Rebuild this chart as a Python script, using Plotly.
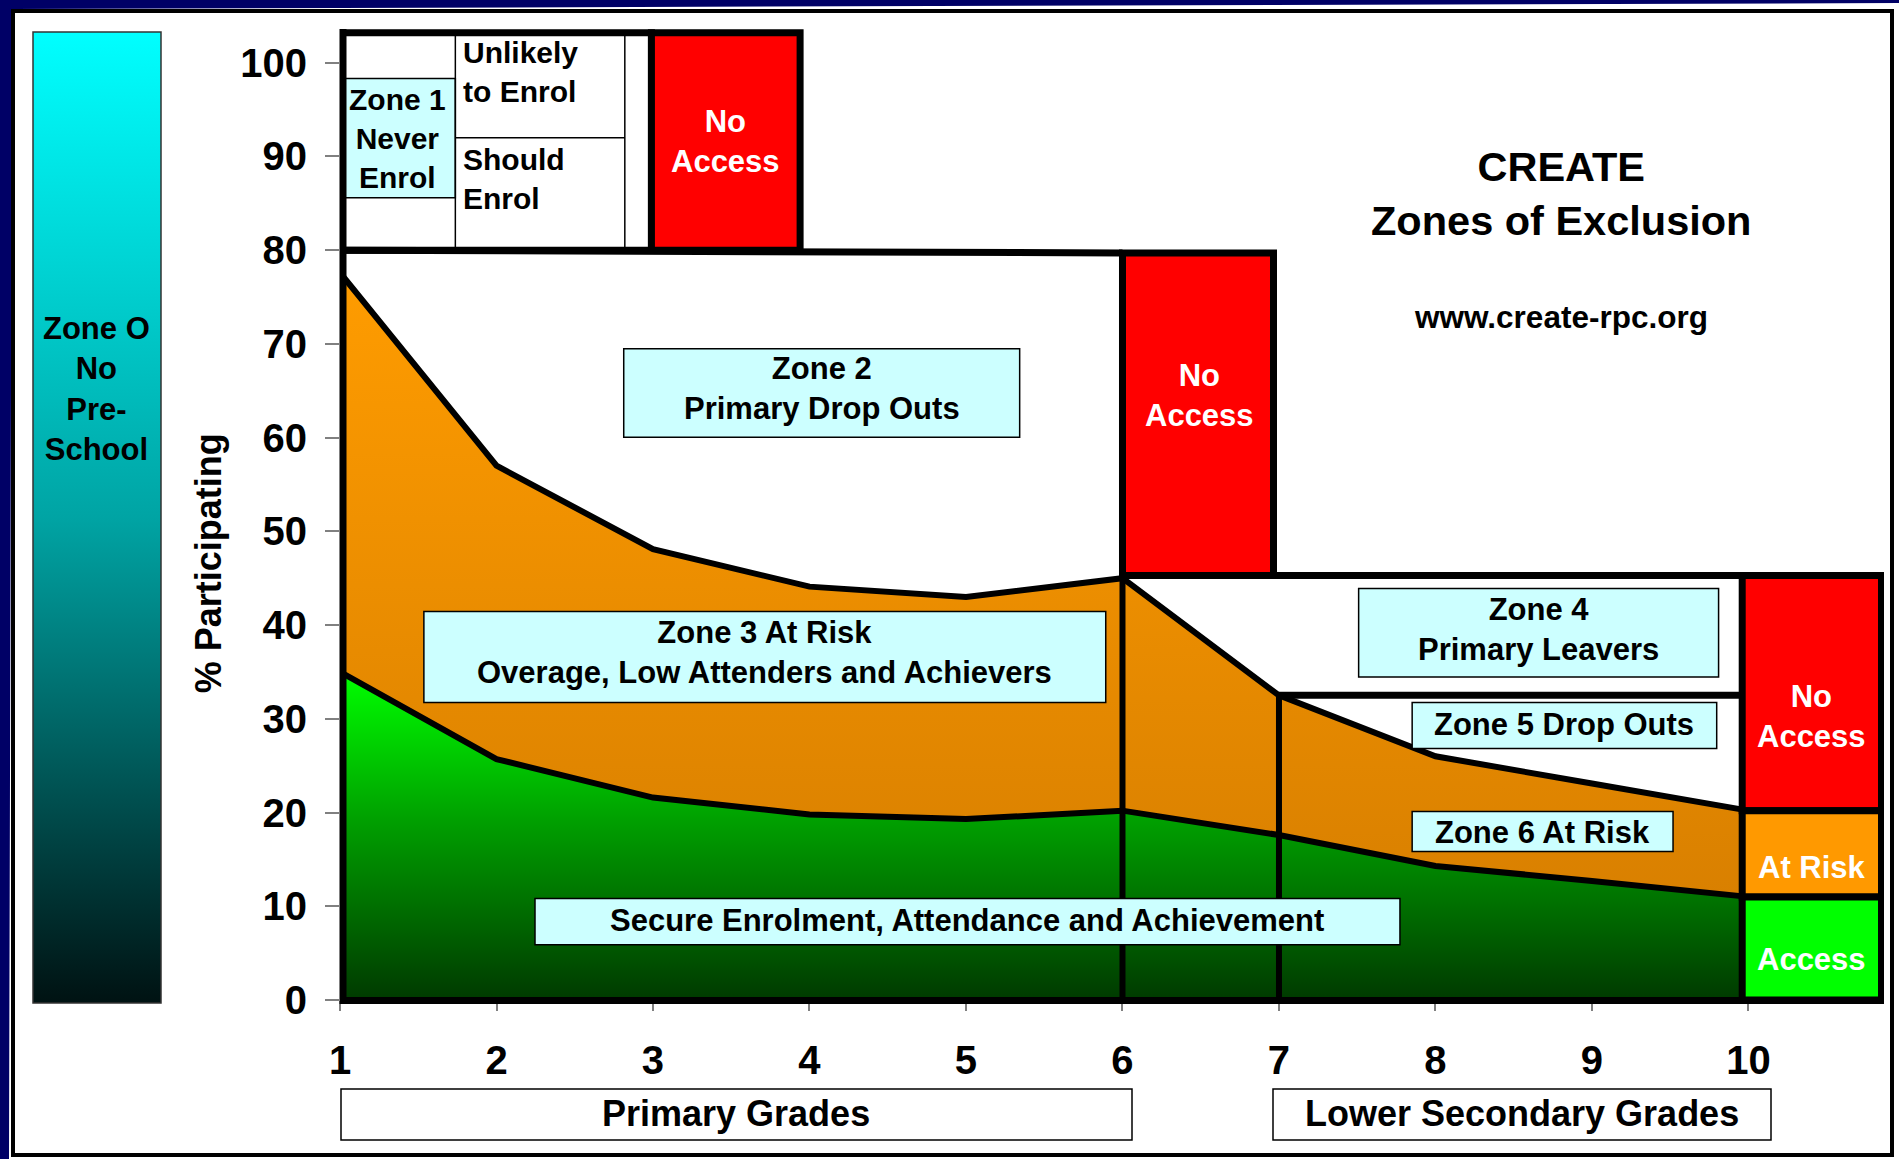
import plotly.graph_objects as go

W, H = 1899, 1159
FONT = "Liberation Sans, Arial, Helvetica, sans-serif"

# ---------------- data ----------------
grades = [1, 2, 3, 4, 5, 6, 7, 8, 9, 10]
at_risk_top = [77.6, 57.0, 48.1, 44.1, 43.0, 45.0, 32.5, 26.0, 23.1, 20.2]   # top of Zone 3 / Zone 6 (orange)
secure_top = [35.0, 25.7, 21.6, 19.8, 19.3, 20.2, 17.6, 14.3, 12.7, 11.0]    # top of secure enrolment (green)
y_ticks = [0, 10, 20, 30, 40, 50, 60, 70, 80, 90, 100]
x_ticks = grades
x_ticktext = [str(g) for g in grades]

enrol_floor = 80.0          # bottom of Zone 1
should_enrol_split = 92.0   # unlikely / should enrol split
zone1_box = (85.6, 98.3)    # "Zone 1 Never Enrol" band
primary_leaver_level = 45.3 # top of Zone 4
dropout5_level = 32.5       # top of Zone 5
grade10_at_risk = 20.2
grade10_access = 11.0

# ---------------- helpers ----------------
def px(x):
    return x / W

def py(y):
    return (H - y) / H

X_RANGE = [1, 10.866]
Y_RANGE = [0, 103.70]

fig = go.Figure()

# Zone 0 gradient panel on its own axes
fig.add_trace(go.Scatter(
    x=[0, 1, 1, 0, 0], y=[0, 0, 1, 1, 0], xaxis="x2", yaxis="y2",
    mode="lines", fill="toself", line=dict(width=0, color="rgba(0,0,0,0)"),
    fillgradient=dict(type="vertical", colorscale=[[0, "#001212"], [0.5, "#00a4a4"], [1, "#00ffff"]]),
    hoverinfo="skip", showlegend=False))

# orange band (at risk)
fig.add_trace(go.Scatter(
    x=grades + grades[::-1], y=at_risk_top + secure_top[::-1],
    mode="lines", fill="toself", line=dict(width=0, color="rgba(0,0,0,0)"),
    fillgradient=dict(type="vertical", colorscale=[[0, "#d98000"], [1, "#ff9c00"]]),
    hoverinfo="skip", showlegend=False))

# green band (secure)
fig.add_trace(go.Scatter(
    x=grades + [grades[-1], grades[0]], y=secure_top + [0, 0],
    mode="lines", fill="toself", line=dict(width=0, color="rgba(0,0,0,0)"),
    fillgradient=dict(type="vertical", colorscale=[[0, "#003a00"], [0.55, "#00a000"], [1, "#00ff00"]]),
    hoverinfo="skip", showlegend=False))

# boundary lines
for series in (at_risk_top, secure_top):
    fig.add_trace(go.Scatter(x=grades, y=series, mode="lines",
                             line=dict(color="black", width=6),
                             hoverinfo="skip", showlegend=False))
for g in (6, 7):
    fig.add_trace(go.Scatter(x=[g, g], y=[0, at_risk_top[g - 1]], mode="lines",
                             line=dict(color="black", width=6),
                             hoverinfo="skip", showlegend=False))

shapes = []
annotations = []

def drect(x0, x1, y0, y1, fill="rgba(0,0,0,0)", lw=7, color="black"):
    shapes.append(dict(type="rect", xref="x", yref="y", x0=x0, x1=x1, y0=y0, y1=y1,
                       fillcolor=fill, line=dict(color=color, width=lw)))

def dline(x0, y0, x1, y1, lw=7, color="black"):
    shapes.append(dict(type="line", xref="x", yref="y", x0=x0, y0=y0, x1=x1, y1=y1,
                       line=dict(color=color, width=lw)))

def prect(x0, y0, x1, y1, fill="rgba(0,0,0,0)", lw=1.5, color="black", layer="above"):
    shapes.append(dict(type="rect", xref="paper", yref="paper",
                       x0=px(x0), x1=px(x1), y0=py(y1), y1=py(y0),
                       fillcolor=fill, line=dict(color=color, width=lw), layer=layer))

def text(x, y, s, size=31, color="black", xref="x", yref="y", xanchor="center", align="center", angle=0):
    annotations.append(dict(x=x, y=y, xref=xref, yref=yref, text=s, showarrow=False,
                            xanchor=xanchor, yanchor="middle", align=align, textangle=angle,
                            font=dict(family=FONT, size=size, color=color, weight="bold")))

# ---- outer slide frame ----
shapes.append(dict(type="path", xref="paper", yref="paper", layer="below",
                   path=f"M {px(0)},{py(0)} L {px(W)},{py(0)} L {px(W)},{py(3)} L {px(12)},{py(9)} "
                        f"L {px(9)},{py(H)} L {px(0)},{py(H)} Z",
                   fillcolor="#000066", line=dict(width=0)))
prect(13, 11, 1892, 1155, lw=4)

# Zone 0 panel border
prect(33, 32, 161, 1003, lw=1.5, color="#333333")

# ---- Zone 1 (top-left) ----
drect(1, 1.737, zone1_box[0], zone1_box[1], fill="#ccffff", lw=1.5)
dline(1.737, enrol_floor, 1.737, 103.2, lw=1.5)
dline(2.82, enrol_floor, 2.82, 103.2, lw=1.5)
dline(1.737, should_enrol_split, 2.82, should_enrol_split, lw=1.5)
drect(1, 2.99, enrol_floor, 103.2, lw=7)
drect(2.99, 3.94, enrol_floor, 103.2, fill="#ff0000", lw=7)

# Zone 2 floor line & grade 6-7 no access
dline(1, enrol_floor, 6.0, 79.7, lw=7)
drect(6.0, 6.965, primary_leaver_level, 79.7, fill="#ff0000", lw=7)

# Zone 4 / 5 lines
dline(6.965, primary_leaver_level, 9.96, primary_leaver_level, lw=7)
dline(7.0, dropout5_level, 9.96, dropout5_level, lw=7)

# right-hand column
drect(9.96, 10.85, grade10_at_risk, primary_leaver_level, fill="#ff0000", lw=7)
drect(9.96, 10.85, grade10_access, grade10_at_risk, fill="#ff9900", lw=7)
drect(9.96, 10.85, 0, grade10_access, fill="#00ff00", lw=7)

# plot frame (left and bottom thick lines) in pixel space
shapes.append(dict(type="line", xref="paper", yref="paper", x0=px(343), x1=px(343),
                   y0=py(1004), y1=py(29), line=dict(color="black", width=7)))
shapes.append(dict(type="line", xref="paper", yref="paper", x0=px(340), x1=px(1884),
                   y0=py(1000.5), y1=py(1000.5), line=dict(color="black", width=7)))

# ---- labelled zone boxes ----
label_boxes = [
    ("Zone 2<br>Primary Drop Outs", 2.813, 5.343, 60.05, 69.48, 65.2),
    ("Zone 3 At Risk<br>Overage, Low Attenders and Achievers", 1.536, 5.893, 31.75, 41.44, 37.1),
    ("Zone 4<br>Primary Leavers", 7.509, 9.809, 34.46, 43.89, 39.5),
    ("Zone 5 Drop Outs", 7.851, 9.797, 26.83, 31.75, 29.4),
    ("Zone 6 At Risk", 7.851, 9.518, 15.85, 20.12, 17.9),
    ("Secure Enrolment, Attendance and Achievement", 2.246, 7.773, 5.90, 10.82, 8.5),
]
for label, x0, x1, y0, y1, ty in label_boxes:
    drect(x0, x1, y0, y1, fill="#ccffff", lw=1.5)
    text((x0 + x1) / 2, ty, label, size=31)

# Zone 1 texts
text(1.3685, 91.9, "Zone 1<br>Never<br>Enrol", size=30)
text(1.773, 99.0, "Unlikely<br>to Enrol", size=30, xanchor="left", align="left")
text(1.773, 87.6, "Should<br>Enrol", size=30, xanchor="left", align="left")

# No Access / At Risk / Access labels
text(3.465, 91.6, "No<br>Access", size=31, color="white")
text(6.49, 64.5, "No<br>Access", size=31, color="white")
text(10.405, 30.2, "No<br>Access", size=31, color="white")
text(10.405, 14.1, "At Risk", size=31, color="white")
text(10.405, 4.3, "Access", size=31, color="white")

# title
text(8.80, 86.05, "CREATE<br>Zones of Exclusion", size=41.5)
text(8.80, 72.9, "www.create-rpc.org", size=31.5)

# Zone 0 text
text(px(96), py(389), "Zone O<br>No<br>Pre-<br>School", size=31, xref="paper", yref="paper")

# y-axis title
text(px(208), 46.6, "% Participating", size=36, xref="paper", yref="y", angle=-90)

# grade group boxes
prect(341, 1089, 1132, 1140, lw=1.5)
prect(1273, 1089, 1771, 1140, lw=1.5)
text(px(736), py(1113), "Primary Grades", size=36, xref="paper", yref="paper")
text(px(1522), py(1113), "Lower Secondary Grades", size=36, xref="paper", yref="paper")

fig.update_layout(
    width=W, height=H,
    margin=dict(l=0, r=0, t=0, b=0, pad=0),
    paper_bgcolor="white", plot_bgcolor="white",
    showlegend=False,
    font=dict(family=FONT, color="black"),
    xaxis=dict(domain=[px(340), px(1884)], range=X_RANGE, tickvals=x_ticks, ticktext=x_ticktext,
               ticks="outside", ticklen=10, tickwidth=1.5, tickcolor="#808080",
               showgrid=False, zeroline=False, showline=False, ticklabelstandoff=15,
               automargin=False,
               tickfont=dict(family=FONT, size=40, color="black", weight="bold")),
    yaxis=dict(domain=[py(1000), py(28)], range=Y_RANGE, tickvals=y_ticks,
               ticks="outside", ticklen=14, tickwidth=1.5, tickcolor="#808080",
               showgrid=False, zeroline=False, showline=False, ticklabelstandoff=10,
               automargin=False,
               tickfont=dict(family=FONT, size=40, color="black", weight="bold")),
    xaxis2=dict(domain=[px(33), px(161)], range=[0, 1], visible=False, anchor="y2", fixedrange=True),
    yaxis2=dict(domain=[py(1003), py(32)], range=[0, 1], visible=False, anchor="x2", fixedrange=True),
    shapes=shapes,
    annotations=annotations,
)

fig.write_html("out.html", config={"displayModeBar": False},
               post_script="document.body.style.margin='0px';document.body.style.overflow='hidden';")
